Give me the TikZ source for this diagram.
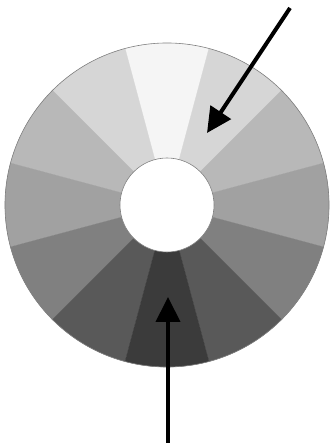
\documentclass[tikz,border=0pt]{standalone}
\usetikzlibrary{arrows.meta}
\begin{document}
\begin{tikzpicture}[x=1pt, y=1pt, >={Triangle[length=25pt, width=24pt]},
    pointer/.style={->, line width=4pt, black}]
			\useasboundingbox (0,0) rectangle (329,443);
			\coordinate (c) at (167,238);
			% sectors
			\foreach \a/\g in {90/96, 60/84, 120/84, 30/72, 150/72, 0/63, 180/63, -30/50, 210/50, -60/35, 240/35, 270/23}
				\filldraw[fill=white!\g!black, draw=white!\g!black, line width=0.3pt] (c) -- ++(\a-15:162) arc[start angle=\a-15, end angle=\a+15, radius=162] -- cycle;
			\draw[gray, line width=0.6pt] (c) circle (162);
			\filldraw[fill=white, draw=gray, line width=0.6pt] (c) circle (47);
			% arrows
			\coordinate (topstart) at (290,435);
			\coordinate (toptip) at (207,310);
			\coordinate (botstart) at (168,0);
			\coordinate (bottip) at (168,146);
			\draw[pointer] (topstart) -- (toptip);
			\draw[pointer] (botstart) -- (bottip);
		\end{tikzpicture}
\end{document}
